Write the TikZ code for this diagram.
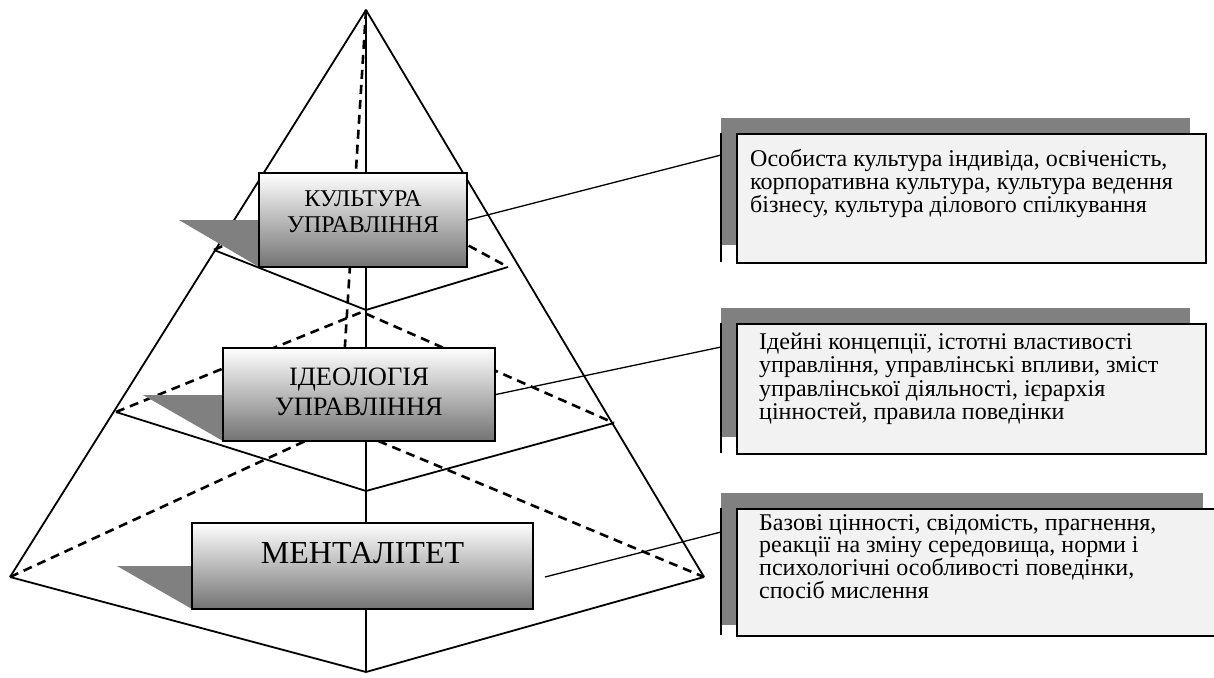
\documentclass[tikz,border=0pt]{standalone}
\usepackage{fontspec}
\setmainfont{Liberation Serif}
\definecolor{shd}{HTML}{808080}
\definecolor{pale}{HTML}{F2F2F2}
\begin{document}
\begin{tikzpicture}[x=1pt,y=-1pt,
  edge/.style={line width=1.8pt, line join=round},
  hid/.style={line width=2.6pt, dash pattern=on 9pt off 6pt},
  levelbox/.style={draw, line width=1.8pt, top color=white, bottom color=black!55, inner sep=0pt},
  leveltext/.style={align=center, inner sep=0pt},
  infobox/.style={draw, fill=pale, line width=1.5pt, anchor=north west, inner sep=0pt},
  infotext/.style={anchor=north west, align=left, inner sep=0pt, font=\fontsize{24}{23.3}\selectfont},
  conn/.style={line width=1.3pt}]
\useasboundingbox (0,0) rectangle (1214,677);
% pyramid points
\coordinate (A) at (366,10);
\coordinate (L0) at (10,577);
\coordinate (R0) at (704,577);
\coordinate (F0) at (366,672);
\coordinate (B0) at (340,425);
\coordinate (L1) at (116,412);
\coordinate (R1) at (614,423);
\coordinate (F1) at (366,491);
\coordinate (B1) at (362,312);
\coordinate (L2) at (214,250);
\coordinate (R2) at (508,267);
\coordinate (F2) at (366,310);
\coordinate (B2) at (355,184);
% hidden lines
\draw[hid] (A) -- (B0);
\draw[hid] (L0) -- (B0) -- (R0);
\draw[hid] (L1) -- (B1) -- (R1);
\draw[hid] (L2) -- (B2) -- (R2);
% visible lines
\draw[edge] (L0) -- (A) -- (R0);
\draw[edge] (A) -- (F0);
\draw[edge] (L0) -- (F0) -- (R0);
\draw[edge] (L1) -- (F1) -- (R1);
\draw[edge] (L2) -- (F2) -- (R2);
% shadows of level boxes
\fill[shd] (179,220) -- (259,220) -- (259,267) -- cycle;
\fill[shd] (143,395) -- (223,395) -- (223,441) -- cycle;
\fill[shd] (117,566) -- (192,566) -- (192,609) -- cycle;
% level boxes
\node[levelbox, minimum width=208pt, minimum height=94pt] (kb) at (363,220) {};
\node[leveltext, font=\fontsize{24}{26.5}\selectfont] (kt) at (363,211.5) {КУЛЬТУРА\\УПРАВЛІННЯ};
\node[levelbox, minimum width=272pt, minimum height=93pt] (ib) at (359,394.5) {};
\node[leveltext, font=\fontsize{26.5}{30}\selectfont] (it) at (359,392) {ІДЕОЛОГІЯ\\УПРАВЛІННЯ};
\node[levelbox, minimum width=341pt, minimum height=86pt] (mb) at (362.5,566) {};
\node[leveltext, font=\fontsize{32}{36}\selectfont] (mt) at (362.5,553) {МЕНТАЛІТЕТ};
% info boxes
\fill[shd] (721,118) rectangle (1190,245);
\node[infobox, minimum width=469pt, minimum height=129pt] (c1) at (736,133) {};
\draw[line width=1.5pt] (721,133) -- (721,262);
\node[infotext] (c1t) at (750,149) {Особиста культура індивіда, освіченість,\\корпоративна культура, культура ведення\\бізнесу, культура ділового спілкування};
\fill[shd] (721,308) rectangle (1190,437);
\node[infobox, minimum width=469pt, minimum height=130pt] (c2) at (736,323) {};
\draw[line width=1.5pt] (721,323) -- (721,453);
\node[infotext] (c2t) at (759,333) {Ідейні концепції, істотні властивості\\управління, управлінські впливи, зміст\\управлінської діяльності, ієрархія\\цінностей, правила поведінки};
\fill[shd] (721,493) rectangle (1203,625);
\node[infobox, minimum width=500pt, minimum height=127pt] (c3) at (736,508) {};
\draw[line width=1.5pt] (721,508) -- (721,635);
\node[infotext, font=\fontsize{24}{22.8}\selectfont] (c3t) at (759,514) {Базові цінності, свідомість, прагнення,\\реакції на зміну середовища, норми і\\психологічні особливості поведінки,\\спосіб мислення};
% connectors
\coordinate (e1) at (721,155);
\coordinate (e2) at (721,347);
\coordinate (e3) at (721,532);
\coordinate (s3) at (545,577);
\draw[conn] (kb.east) -- (e1);
\draw[conn] (ib.east) -- (e2);
\draw[conn] (s3) -- (e3);
\end{tikzpicture}
\end{document}
